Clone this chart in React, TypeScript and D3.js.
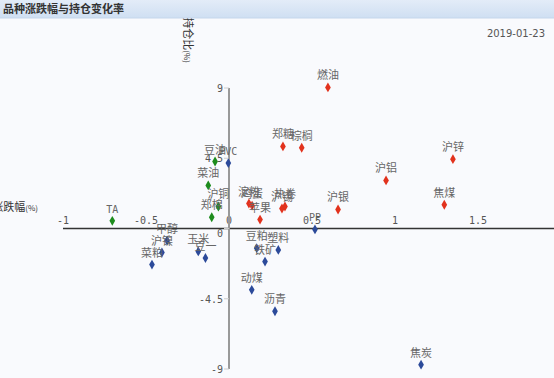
import React from "react";
import * as d3 from "d3";

const title = "品种涨跌幅与持仓变化率";
const dateLabel = "2019-01-23";
const xTitle = "涨跌幅";
const yTitle = "持仓比";
const unit = "(%)";

const redNames = ["燃油", "郑糖", "棕榈", "沪铝", "沪锌", "焦煤", "沪银", "沪锡", "热卷", "淀粉", "鸡蛋", "苹果"];
const redX = [0.596, 0.325, 0.438, 0.946, 1.349, 1.297, 0.657, 0.319, 0.337, 0.12, 0.139, 0.187];
const redY = [9.04, 5.26, 5.17, 3.08, 4.44, 1.52, 1.22, 1.28, 1.41, 1.6, 1.47, 0.57];

const greenNames = ["豆油", "菜油", "沪铜", "郑棉", "TA"];
const greenX = [-0.084, -0.125, -0.064, -0.104, -0.703];
const greenY = [4.29, 2.76, 1.41, 0.72, 0.49];

const blueNames = ["PVC", "PP", "甲醇", "沪镍", "菜粕", "玉米", "豆一", "豆粕", "铁矿", "塑料", "动煤", "沥青", "焦炭"];
const blueX = [-0.004, 0.518, -0.373, -0.404, -0.464, -0.185, -0.142, 0.167, 0.217, 0.297, 0.137, 0.277, 1.157];
const blueY = [4.19, -0.06, -0.77, -1.54, -2.31, -1.47, -1.89, -1.26, -2.12, -1.37, -3.93, -5.3, -8.72];

const xTicks = [-1, -0.5, 0, 0.5, 1, 1.5];
const xTickLabels = ["-1", "-0.5", "0", "0.5", "1", "1.5"];
const yTicks = [9, 4.5, 0, -4.5, -9];
const yTickLabels = ["9", "4.5", "0", "-4.5", "-9"];

const W = 554;
const H = 378;

export default function App() {
  const x = d3.scaleLinear().domain([-1, 1.5]).range([63, 478]);
  const y = d3.scaleLinear().domain([-9, 9]).range([369, 88]);
  const diamond = d3.symbol().type(d3.symbolDiamond).size(28)();

  const series = [
    { names: redNames, xs: redX, ys: redY, color: "#e2321d" },
    { names: greenNames, xs: greenX, ys: greenY, color: "#1d8c1d" },
    { names: blueNames, xs: blueX, ys: blueY, color: "#2c4a9a" },
  ];

  const cjk = "'Noto Sans CJK SC', 'Noto Sans', sans-serif";
  const mono = "'DejaVu Sans Mono', monospace";

  return (
    <svg
      width={W}
      height={H}
      style={{ position: "absolute", left: 0, top: 0, background: "#f9fafd" }}
    >
      <defs>
        <linearGradient id="tb" x1="0" y1="0" x2="0" y2="1">
          <stop offset="0" stopColor="#e3ecf8" />
          <stop offset="1" stopColor="#cfdff2" />
        </linearGradient>
      </defs>
      <rect x={0} y={0} width={W} height={H} fill="#f9fafd" />

      {/* y axis title */}
      <text
        transform={`translate(184, 63) rotate(90)`}
        textAnchor="end"
        fontFamily={cjk}
        fontSize={11}
        fill="#333"
      >
        {yTitle}
        <tspan fontSize={8}>{unit}</tspan>
      </text>

      {/* title bar */}
      <rect x={0} y={0} width={W} height={18} fill="url(#tb)" />
      <line x1={0} x2={W} y1={18} y2={18} stroke="#c5d6ec" />
      <text x={3} y={13} fontFamily={cjk} fontSize={11} fontWeight="bold" fill="#333">
        {title}
      </text>

      <text x={545} y={37} textAnchor="end" fontFamily="'DejaVu Sans', sans-serif" fontSize={10} fill="#555">
        {dateLabel}
      </text>

      {/* x axis title */}
      <text x={38} y={211} textAnchor="end" fontFamily={cjk} fontSize={11} fill="#333">
        {xTitle}
        <tspan fontSize={8}>{unit}</tspan>
      </text>

      {/* x axis */}
      <line x1={x(-1)} x2={W} y1={y(0)} y2={y(0)} stroke="#333" strokeWidth={1.5} />
      {xTicks.map((t, i) => (
        <text
          key={"xt" + i}
          x={x(t)}
          y={y(0) - 5}
          textAnchor="middle"
          fontFamily={mono}
          fontSize={10}
          fill="#555"
        >
          {xTickLabels[i]}
        </text>
      ))}

      {/* y axis */}
      <line x1={x(0)} x2={x(0)} y1={y(9)} y2={y(-9)} stroke="#999" strokeWidth={2} />
      {yTicks.map((t, i) => (
        <g key={"yt" + i}>
          <line x1={x(0) - 5} x2={x(0)} y1={y(t)} y2={y(t)} stroke="#ccc" />
          <text
            x={x(0) - 6}
            y={y(t) + (t === 0 ? 8 : 4)}
            textAnchor="end"
            fontFamily={mono}
            fontSize={10}
            fill="#555"
          >
            {yTickLabels[i]}
          </text>
        </g>
      ))}

      {series.map((s, si) =>
        s.names.map((n, i) => (
          <g key={si + "-" + i}>
            <path d={diamond} transform={`translate(${x(s.xs[i])},${y(s.ys[i])})`} fill={s.color} />
            <text
              x={x(s.xs[i])}
              y={y(s.ys[i]) - 8}
              textAnchor="middle"
              fontFamily={/^[A-Z]+$/.test(n) ? mono : cjk}
              fontSize={/^[A-Z]+$/.test(n) ? 10 : 11}
              fill="#666"
            >
              {n}
            </text>
          </g>
        ))
      )}
    </svg>
  );
}
